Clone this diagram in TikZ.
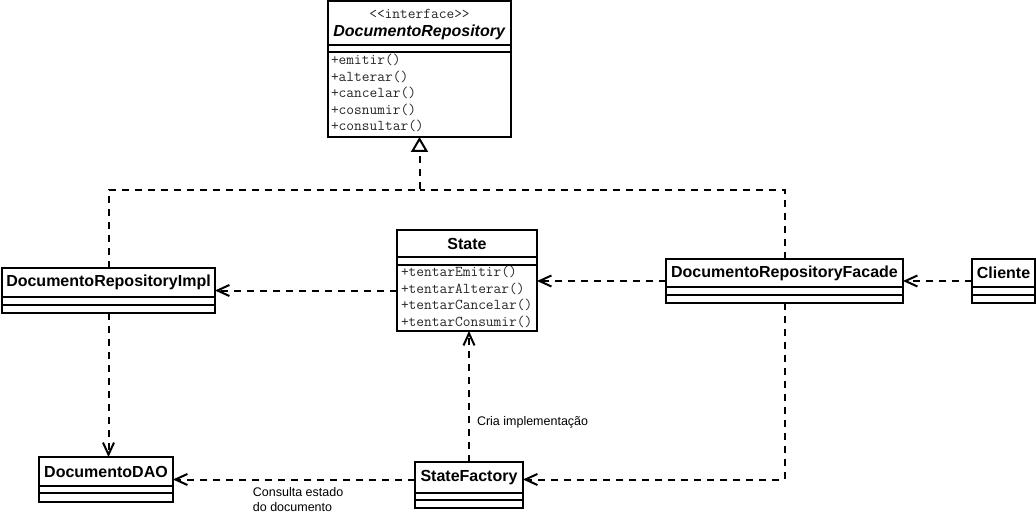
\documentclass[tikz,border=0pt]{standalone}
\usepackage{fontspec}
\setmainfont{Liberation Sans}
\usepackage{tikz}
\usetikzlibrary{positioning, arrows.meta}

\begin{document}
\begin{tikzpicture}[x=1pt, y=-1pt,
    box/.style={draw, rectangle, line width=2pt, inner sep=0pt, outer sep=0pt},
    title/.style={inner sep=0pt, outer sep=0pt, minimum height=#1, align=center, font=\fontsize{16}{18}\selectfont\bfseries},
    comp/.style={box, minimum height=#1},
    ops/.style={inner sep=0pt, outer sep=0pt, align=left, text=black!85, font=\ttfamily\fontsize{15}{16.5}\selectfont},
    lbl/.style={inner sep=0pt, font=\fontsize{12.5}{14.5}\selectfont},
    dashline/.style={line width=2pt, dash pattern=on 7pt off 6pt},
    dep/.style={dashline, -{Straight Barb[length=12pt, width=11pt]}},
    real/.style={dashline, -{Triangle[open, length=15pt, width=17pt, fill=white]}}]
    \useasboundingbox (0,0) rectangle (1036,513);

    % Classes
    \node[box, minimum width=183pt, minimum height=136pt] (repo) at (419.5,69) {};
    \node[title=47pt, below=0pt of repo.north] (repoT) {{\mdseries\ttfamily\fontsize{15}{16}\selectfont\color{black!85}\textless\textless interface\textgreater\textgreater}\\\textit{DocumentoRepository}};
    \node[comp=7pt, minimum width=183pt, below=44pt of repo.north] (repoA) {};
    \node[ops, below right=1pt and 3pt of repoA.south west] (repoM) {\strut+emitir()\\\strut+alterar()\\\strut+cancelar()\\\strut+cosnumir()\\\strut+consultar()};

    \node[box, minimum width=213pt, minimum height=45pt] (impl) at (108.5,290.5) {};
    \node[title=29pt, below=0pt of impl.north] (implT) {DocumentoRepositoryImpl};
    \node[comp=8pt, minimum width=213pt, below=29pt of impl.north] (implA) {};

    \node[box, minimum width=140pt, minimum height=101pt] (state) at (467,280.5) {};
    \node[title=27pt, below=0pt of state.north] (stateT) {State};
    \node[comp=8pt, minimum width=140pt, below=27pt of state.north] (stateA) {};
    \node[ops, below right=0pt and 4pt of stateA.south west] (stateM) {\strut+tentarEmitir()\\\strut+tentarAlterar()\\\strut+tentarCancelar()\\\strut+tentarConsumir()};

    \node[box, minimum width=237pt, minimum height=44pt] (facade) at (784.5,281) {};
    \node[title=28pt, below=0pt of facade.north] (facadeT) {DocumentoRepositoryFacade};
    \node[comp=8pt, minimum width=237pt, below=28pt of facade.north] (facadeA) {};

    \node[box, minimum width=63pt, minimum height=44pt] (cliente) at (1003.5,281) {};
    \node[title=28pt, below=0pt of cliente.north] (clienteT) {Cliente};
    \node[comp=8pt, minimum width=63pt, below=28pt of cliente.north] (clienteA) {};

    \node[box, minimum width=134pt, minimum height=45pt] (dao) at (106,479.5) {};
    \node[title=29pt, below=0pt of dao.north] (daoT) {DocumentoDAO};
    \node[comp=7pt, minimum width=134pt, below=29pt of dao.north] (daoA) {};

    \node[box, minimum width=108pt, minimum height=46pt] (factory) at (469,485) {};
    \node[title=31pt, below=0pt of factory.north] (factoryT) {StateFactory};
    \node[comp=7pt, minimum width=108pt, below=31pt of factory.north] (factoryA) {};

    \coordinate (realJoin) at (419.5,190);

    % Connections
    \draw[real] (impl) |- (realJoin) -- (repo);
    \draw[dashline] (facade) |- (realJoin);
    \draw[dep] (cliente) -- (facade);
    \draw[dep] (facade) -- (facade -| state.east);
    \draw[dep] (state.west |- impl) -- (impl);
    \draw[dep] (impl) -- (impl |- dao.north);
    \draw[dep] (factory) -- (factory |- state.south) node[lbl, right, pos=0.305, xshift=7pt] {Cria implementação};
    \draw[dep] (factory.west |- dao) -- (dao) node[lbl, align=left, anchor=north west, pos=0.674, yshift=-7pt] {Consulta estado\\do documento};
    \draw[dep] (facade) |- (factory.east |- dao);
\end{tikzpicture}
\end{document}
